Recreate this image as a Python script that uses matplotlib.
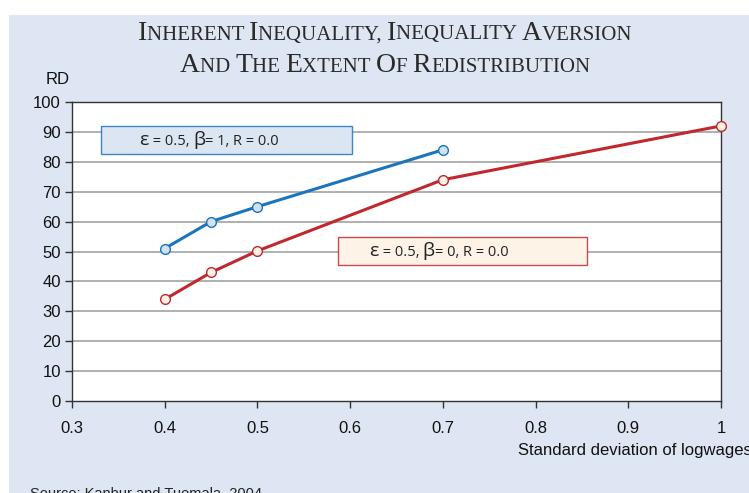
import matplotlib
matplotlib.use("Agg")
import matplotlib.pyplot as plt
from matplotlib.patches import Rectangle
from matplotlib.offsetbox import TextArea, HPacker, AnnotationBbox

x_blue = [0.4, 0.45, 0.5, 0.7]
y_blue = [51, 60, 65, 84]
x_red = [0.4, 0.45, 0.5, 0.7, 1.0]
y_red = [34, 43, 50.2, 74, 92]
xticks = [0.3, 0.4, 0.5, 0.6, 0.7, 0.8, 0.9, 1.0]
xticklabels = ["0.3", "0.4", "0.5", "0.6", "0.7", "0.8", "0.9", "1"]
yticks = list(range(0, 101, 10))

PANEL = "#dfe6f3"
BLUE = "#1a75bc"
RED = "#c1272d"

fig = plt.figure(figsize=(7.49, 4.93), dpi=100)
fig.patch.set_facecolor("white")
W, H = 749, 493
fig.patches.append(Rectangle((9 / W, 0), 1 - 9 / W, 1 - 15 / H, transform=fig.transFigure,
                             facecolor=PANEL, edgecolor="none", zorder=-5))

ax = fig.add_axes([72 / W, (H - 401) / H, (721 - 72) / W, (401 - 102) / H])
ax.set_facecolor("white")
ax.set_xlim(0.3, 1.0)
ax.set_ylim(0, 100)
ax.set_xticks(xticks)
ax.set_xticklabels(xticklabels)
ax.set_yticks(yticks)
for s in ax.spines.values():
    s.set_color("#333333")
    s.set_linewidth(1.0)
ax.tick_params(axis="both", direction="out", length=5, width=1, color="#333333",
               labelsize=12, labelcolor="#111111")
ax.tick_params(axis="x", pad=9.5)
ax.tick_params(axis="y", pad=3)
for lab in ax.get_xticklabels() + ax.get_yticklabels():
    lab.set_fontfamily("Liberation Sans")
for v in yticks[1:-1]:
    ax.axhline(v, color="#9a9a9a", lw=1.1, zorder=1)

ax.plot(x_blue, y_blue, color=BLUE, lw=2.2, marker="o", ms=7, mfc="#d3e2f3",
        mec=BLUE, mew=1.0, zorder=4, clip_on=False)
ax.plot(x_red, y_red, color=RED, lw=2.2, marker="o", ms=7, mfc="#fdf1e6",
        mec=RED, mew=1.0, zorder=4, clip_on=False)

# annotation boxes
ax.add_patch(Rectangle((0.0447, 0.826), 0.3867, 0.094, transform=ax.transAxes,
                       facecolor="#dce6f2", edgecolor="#3a86c6", lw=1.0, zorder=5))
ax.add_patch(Rectangle((0.41, 0.455), 0.3835, 0.093, transform=ax.transAxes,
                       facecolor="#fdf3e7", edgecolor="#c84a4f", lw=1.0, zorder=5))


def label(parts, xy):
    kids = []
    for t, sz in parts:
        kids.append(TextArea(t, textprops=dict(size=sz, family=["Open Sans", "DejaVu Sans"],
                                               color="#222222")))
    pk = HPacker(children=kids, align="baseline", pad=0, sep=0)
    ab = AnnotationBbox(pk, xy, xycoords=ax.transAxes, frameon=False, box_alignment=(0, 0.5),
                        zorder=6)
    ax.add_artist(ab)


label([("ε", 14), (" = 0.5, ", 10.5), ("β", 14), ("= 1, R = 0.0", 10.5)], (0.104, 0.872))
label([("ε", 14), (" = 0.5, ", 10.5), ("β", 14), ("= 0, R = 0.0", 10.5)], (0.458, 0.502))


def smallcaps(words, y):
    kids = []
    for w in words:
        kids.append(TextArea(w[0], textprops=dict(size=20, family="Liberation Serif",
                                                  color="#2a2a2a")))
        if len(w) > 1:
            kids.append(TextArea(w[1:].upper(), textprops=dict(size=15, family="Liberation Serif",
                                                               color="#2a2a2a")))
    pk = HPacker(children=kids, align="baseline", pad=0, sep=0)
    ab = AnnotationBbox(pk, (385 / W, y), xycoords=fig.transFigure, frameon=False,
                        box_alignment=(0.5, 0.5))
    fig.add_artist(ab)


smallcaps(["Inherent ", "Inequality, ", "Inequality ", "Aversion"], 1 - 33 / H)
smallcaps(["And ", "The ", "Extent ", "Of ", "Redistribution"], 1 - 65 / H)

fig.text(58 / W, 1 - 80 / H, "RD", ha="center", va="center", fontsize=12,
         family="Liberation Sans", color="#111111")
fig.text(518 / W, 1 - 451 / H, "Standard deviation of logwages", ha="left", va="center",
         fontsize=12, family="Liberation Sans", color="#111111")
fig.text(30 / W, 1 - 494 / H, "Source: Kanbur and Tuomala, 2004.", ha="left", va="center",
         fontsize=10.5, family="Liberation Sans", color="#222222")

fig.savefig("out.png", dpi=100)
